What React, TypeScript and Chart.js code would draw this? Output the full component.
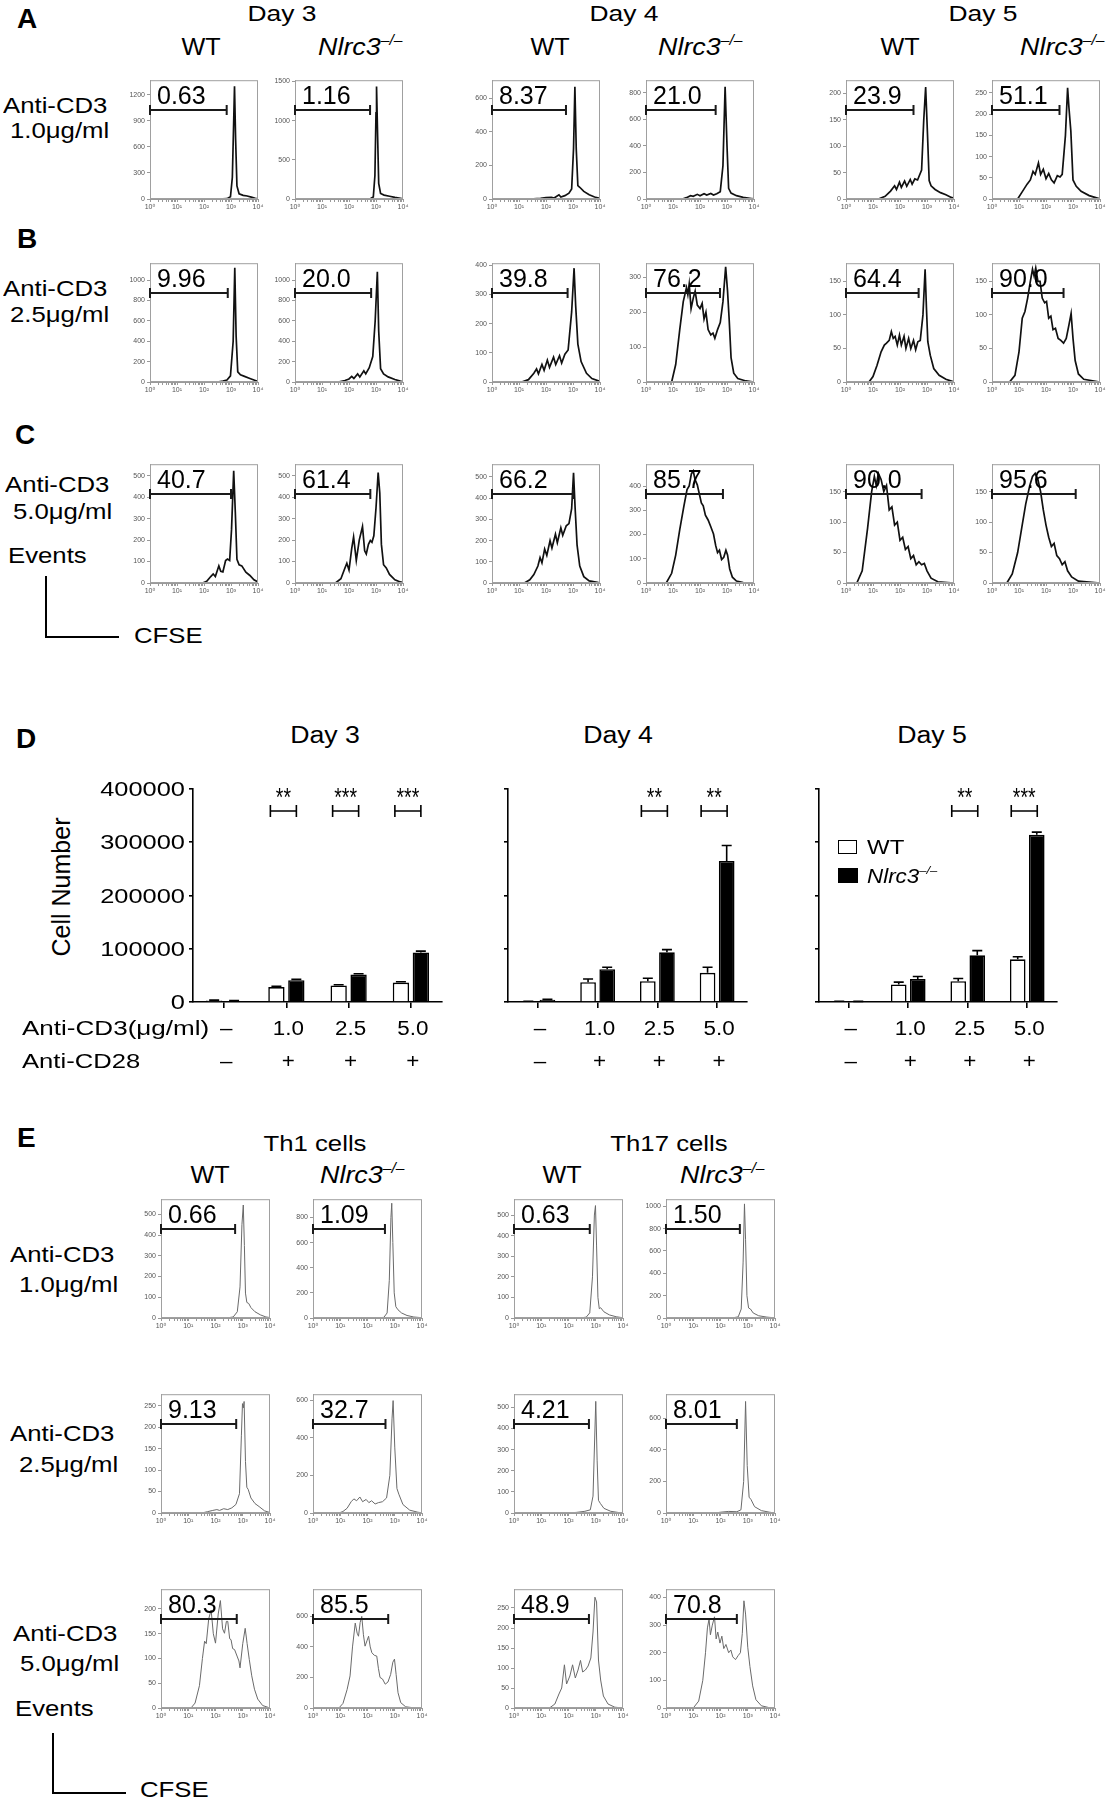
import React, { useEffect, useRef } from 'react';
import { Chart, registerables } from 'chart.js';

Chart.register(...registerables);
const FONT = '"Liberation Sans", Arial, "DejaVu Sans", sans-serif';
Chart.defaults.font.family = FONT;

type Pt = [number, number];

// ---------------- Histogram data: [log10(CFSE), events] ----------------
// Panel A (anti-CD3 1.0 ug/ml)
const A_D3_WT: Pt[] = [[0,0],[2.55,0],[2.85,4],[2.98,25],[3.05,250],[3.1,900],[3.13,1300],[3.17,700],[3.22,150],[3.3,60],[3.45,42],[3.6,35],[3.75,22],[3.9,8],[4,2]];
const A_D3_KO: Pt[] = [[0,0],[2.5,0],[2.8,5],[2.9,25],[2.96,300],[3.0,1100],[3.02,1435],[3.06,800],[3.1,200],[3.17,70],[3.3,50],[3.5,35],[3.7,20],[3.9,8],[4,2]];
const A_D4_WT: Pt[] = [[0,0],[1.4,0],[1.8,4],[2.0,8],[2.2,10],[2.3,6],[2.48,25],[2.55,12],[2.7,20],[2.85,35],[2.95,60],[3.02,300],[3.07,669],[3.12,300],[3.18,80],[3.25,70],[3.4,45],[3.6,25],[3.8,12],[4,4]];
const A_D4_KO: Pt[] = [[0,0],[1.35,0],[1.5,10],[1.65,25],[1.75,20],[1.9,35],[2.0,25],[2.15,40],[2.25,30],[2.4,42],[2.5,30],[2.62,40],[2.75,55],[2.85,250],[2.93,845],[3.0,400],[3.06,80],[3.15,45],[3.35,25],[3.6,12],[3.9,4],[4,1]];
const A_D5_WT: Pt[] = [[0,0],[1.2,0],[1.45,5],[1.65,15],[1.8,25],[1.87,18],[1.98,32],[2.05,22],[2.17,34],[2.25,24],[2.38,37],[2.45,28],[2.55,38],[2.65,36],[2.8,55],[2.88,150],[2.95,212],[3.02,120],[3.08,35],[3.15,25],[3.3,18],[3.5,12],[3.7,8],[3.9,3],[4,1]];
const A_D5_KO: Pt[] = [[0,0],[0.95,0],[1.1,15],[1.3,35],[1.42,45],[1.52,65],[1.6,58],[1.72,85],[1.8,58],[1.9,70],[2.0,48],[2.1,60],[2.2,45],[2.3,38],[2.42,55],[2.52,52],[2.6,58],[2.72,150],[2.8,262],[2.85,215],[2.92,160],[3.0,45],[3.12,30],[3.3,18],[3.6,8],[3.9,2],[4,0]];
// Panel B (anti-CD3 2.5 ug/ml)
const B_D3_WT: Pt[] = [[0,0],[2.5,0],[2.7,10],[2.85,20],[2.98,60],[3.08,400],[3.14,1120],[3.19,450],[3.25,100],[3.35,70],[3.5,55],[3.7,35],[3.9,15],[4,5]];
const B_D3_KO: Pt[] = [[0,0],[1.6,0],[1.85,15],[2.0,30],[2.1,55],[2.18,35],[2.32,80],[2.4,50],[2.55,110],[2.62,80],[2.75,140],[2.88,250],[2.97,600],[3.05,1080],[3.1,500],[3.17,130],[3.28,80],[3.45,50],[3.7,25],[3.9,8],[4,2]];
const B_D4_WT: Pt[] = [[0,0],[1.1,0],[1.35,8],[1.55,30],[1.65,45],[1.72,28],[1.85,60],[1.93,40],[2.05,75],[2.13,50],[2.28,85],[2.36,60],[2.5,90],[2.58,65],[2.7,95],[2.82,110],[2.95,240],[3.04,390],[3.1,260],[3.18,130],[3.3,70],[3.5,30],[3.7,12],[4,2]];
const B_D4_KO: Pt[] = [[0,0],[0.95,0],[1.1,50],[1.25,150],[1.38,230],[1.5,270],[1.55,250],[1.6,280],[1.67,210],[1.75,240],[1.82,260],[1.9,220],[2.0,210],[2.08,225],[2.15,180],[2.22,200],[2.3,150],[2.4,135],[2.48,140],[2.55,125],[2.65,150],[2.75,170],[2.85,230],[2.95,330],[3.02,260],[3.08,180],[3.15,70],[3.25,25],[3.4,10],[3.7,3],[4,0]];
const B_D5_WT: Pt[] = [[0,0],[0.85,0],[1.0,8],[1.15,25],[1.3,45],[1.42,55],[1.5,58],[1.6,62],[1.68,75],[1.75,65],[1.82,68],[1.9,55],[1.98,70],[2.05,55],[2.15,68],[2.22,50],[2.32,65],[2.4,50],[2.5,62],[2.58,48],[2.66,60],[2.75,62],[2.85,100],[2.93,168],[2.98,110],[3.03,60],[3.12,40],[3.25,20],[3.45,10],[3.7,4],[4,0]];
const B_D5_KO: Pt[] = [[0,0],[0.65,0],[0.85,10],[1.0,45],[1.12,95],[1.22,105],[1.32,125],[1.42,150],[1.5,168],[1.56,158],[1.62,170],[1.7,150],[1.78,150],[1.86,125],[1.95,118],[2.02,120],[2.1,95],[2.18,98],[2.26,78],[2.35,80],[2.45,65],[2.55,62],[2.65,58],[2.75,65],[2.85,85],[2.93,102],[3.0,65],[3.08,32],[3.2,12],[3.4,4],[4,0]];
// Panel C (anti-CD3 5.0 ug/ml)
const C_D3_WT: Pt[] = [[0,0],[1.95,0],[2.1,8],[2.25,30],[2.34,42],[2.42,30],[2.55,80],[2.62,55],[2.7,52],[2.8,105],[2.87,112],[2.95,105],[3.02,250],[3.1,523],[3.16,330],[3.22,110],[3.3,85],[3.4,80],[3.55,50],[3.7,35],[3.85,15],[4,5]];
const C_D3_KO: Pt[] = [[0,0],[1.5,0],[1.7,20],[1.85,70],[1.92,92],[2.0,60],[2.1,160],[2.17,215],[2.27,105],[2.38,200],[2.5,263],[2.58,150],[2.64,135],[2.72,180],[2.79,198],[2.85,190],[2.92,220],[3.0,350],[3.08,515],[3.14,420],[3.2,180],[3.28,85],[3.38,70],[3.5,40],[3.7,15],[3.9,5],[4,2]];
const C_D4_WT: Pt[] = [[0,0],[1.2,0],[1.4,15],[1.55,40],[1.7,80],[1.78,120],[1.85,95],[1.95,160],[2.03,130],[2.15,200],[2.22,165],[2.35,230],[2.42,190],[2.55,260],[2.62,225],[2.75,270],[2.85,280],[2.95,350],[3.02,520],[3.08,350],[3.15,180],[3.25,80],[3.4,30],[3.6,10],[3.9,3],[4,0]];
const C_D4_KO: Pt[] = [[0,0],[0.75,0],[0.95,40],[1.1,115],[1.25,220],[1.4,315],[1.52,385],[1.6,400],[1.68,450],[1.75,462],[1.82,425],[1.9,405],[1.98,365],[2.05,330],[2.12,318],[2.2,280],[2.3,260],[2.4,232],[2.5,202],[2.58,155],[2.65,125],[2.72,135],[2.8,97],[2.88,106],[2.96,135],[3.02,116],[3.1,58],[3.2,24],[3.35,8],[3.6,2],[4,0]];
const C_D5_WT: Pt[] = [[0,0],[0.4,0],[0.6,20],[0.8,90],[0.95,150],[1.05,175],[1.12,160],[1.2,180],[1.3,170],[1.4,150],[1.5,160],[1.6,120],[1.7,125],[1.8,95],[1.9,100],[2.0,70],[2.1,75],[2.2,55],[2.3,60],[2.4,40],[2.5,45],[2.6,30],[2.7,35],[2.8,30],[2.9,32],[3.0,20],[3.15,8],[3.4,2],[4,0]];
const C_D5_KO: Pt[] = [[0,0],[0.55,0],[0.75,15],[0.95,50],[1.1,90],[1.25,130],[1.4,160],[1.5,175],[1.6,180],[1.7,170],[1.8,150],[1.9,120],[2.0,95],[2.1,75],[2.2,60],[2.3,65],[2.4,45],[2.5,40],[2.6,30],[2.7,35],[2.8,20],[2.95,10],[3.2,3],[4,0]];
// Panel E row 1 (1.0 ug/ml): Th1 WT, Th1 KO, Th17 WT, Th17 KO
const E1_TH1_WT: Pt[] = [[0,0],[2.4,0],[2.65,5],[2.8,30],[2.9,150],[2.97,450],[3.02,545],[3.06,350],[3.1,120],[3.15,75],[3.22,70],[3.3,50],[3.45,30],[3.65,15],[3.85,5],[4,2]];
const E1_TH1_KO: Pt[] = [[0,0],[2.3,0],[2.6,5],[2.72,40],[2.8,300],[2.86,800],[2.89,913],[2.93,600],[2.98,200],[3.04,90],[3.12,65],[3.25,40],[3.45,20],[3.7,8],[4,2]];
const E1_TH17_WT: Pt[] = [[0,0],[2.4,0],[2.65,4],[2.78,25],[2.88,200],[2.95,500],[2.99,546],[3.03,350],[3.08,100],[3.13,45],[3.18,50],[3.3,30],[3.5,15],[3.75,6],[4,1]];
const E1_TH17_KO: Pt[] = [[0,0],[2.4,0],[2.65,10],[2.76,80],[2.83,500],[2.88,1021],[2.92,700],[2.97,200],[3.03,90],[3.1,80],[3.2,45],[3.4,20],[3.7,8],[4,1]];
// Panel E row 2 (2.5 ug/ml)
const E2_TH1_WT: Pt[] = [[0,0],[1.5,0],[1.7,3],[1.9,6],[2.05,8],[2.15,6],[2.3,10],[2.45,8],[2.6,12],[2.75,20],[2.88,45],[2.95,180],[2.99,255],[3.02,245],[3.05,260],[3.1,120],[3.15,60],[3.2,55],[3.3,35],[3.45,22],[3.6,15],[3.8,5],[4,1]];
const E2_TH1_KO: Pt[] = [[0,0],[0.95,0],[1.1,8],[1.25,25],[1.4,60],[1.5,75],[1.6,65],[1.72,85],[1.82,60],[1.95,72],[2.05,55],[2.15,65],[2.28,48],[2.4,55],[2.55,60],[2.7,80],[2.82,200],[2.9,500],[2.94,597],[3.0,350],[3.08,130],[3.15,100],[3.3,45],[3.55,15],[3.85,4],[4,1]];
const E2_TH17_WT: Pt[] = [[0,0],[2.0,0],[2.3,3],[2.6,8],[2.8,15],[2.9,80],[2.96,350],[3.0,528],[3.05,250],[3.1,60],[3.17,45],[3.3,22],[3.55,8],[3.85,2],[4,0]];
const E2_TH17_KO: Pt[] = [[0,0],[1.8,0],[2.0,5],[2.3,10],[2.6,8],[2.75,20],[2.85,200],[2.92,706],[2.98,300],[3.05,100],[3.12,85],[3.25,40],[3.5,15],[3.8,5],[4,0]];
// Panel E row 3 (5.0 ug/ml)
const E3_TH1_WT: Pt[] = [[0,0],[1.1,0],[1.25,10],[1.41,45],[1.52,100],[1.6,135],[1.66,130],[1.75,180],[1.84,198],[1.92,150],[2.0,131],[2.1,190],[2.18,217],[2.26,160],[2.33,151],[2.4,175],[2.45,175],[2.52,140],[2.57,138],[2.63,120],[2.7,118],[2.79,105],[2.86,95],[2.9,81],[3.0,130],[3.09,161],[3.16,130],[3.24,98],[3.33,65],[3.43,38],[3.55,18],[3.73,5],[4,0]];
const E3_TH1_KO: Pt[] = [[0,0],[0.95,0],[1.1,30],[1.25,120],[1.36,210],[1.45,400],[1.55,556],[1.62,490],[1.67,470],[1.73,560],[1.79,600],[1.85,480],[1.91,405],[1.98,440],[2.04,470],[2.1,400],[2.16,362],[2.25,345],[2.34,340],[2.4,260],[2.46,200],[2.55,190],[2.65,156],[2.75,170],[2.85,220],[2.93,300],[2.99,320],[3.05,220],[3.12,100],[3.22,35],[3.4,8],[3.7,1],[4,0]];
const E3_TH17_WT: Pt[] = [[0,0],[1.3,0],[1.5,10],[1.65,35],[1.75,50],[1.85,108],[1.93,60],[2.05,80],[2.15,108],[2.25,75],[2.35,95],[2.44,119],[2.52,90],[2.62,95],[2.72,105],[2.82,125],[2.9,190],[2.97,277],[3.03,265],[3.1,120],[3.18,70],[3.28,30],[3.45,10],[3.7,2],[4,0]];
const E3_TH17_KO: Pt[] = [[0,0],[1.0,0],[1.2,25],[1.35,100],[1.45,200],[1.52,290],[1.58,322],[1.63,265],[1.7,300],[1.78,330],[1.84,250],[1.9,275],[1.98,235],[2.05,260],[2.12,215],[2.2,230],[2.3,200],[2.38,210],[2.45,185],[2.55,175],[2.65,190],[2.73,200],[2.8,270],[2.86,388],[2.92,340],[3.0,220],[3.08,150],[3.18,80],[3.3,30],[3.5,8],[3.8,1],[4,0]];

// gate percentages, gate upper limits (log10 CFSE), y-axis maxima and tick steps
const A_LABELS = ['0.63', '1.16', '8.37', '21.0', '23.9', '51.1'];
const A_GATES = [2.84, 2.78, 2.74, 2.58, 2.5, 2.5];
const A_YMAX = [1370, 1515, 708, 894, 225, 280];
const A_STEP = [300, 500, 200, 200, 50, 50];
const B_LABELS = ['9.96', '20.0', '39.8', '76.2', '64.4', '90.0'];
const B_GATES = [2.88, 2.82, 2.8, 2.74, 2.69, 2.65];
const B_YMAX = [1165, 1165, 407, 340, 177, 177];
const B_STEP = [200, 200, 100, 100, 50, 50];
const C_LABELS = ['40.7', '61.4', '66.2', '85.7', '90.0', '95.6'];
const C_GATES = [3.0, 2.79, 3.0, 2.85, 2.8, 3.1];
const C_YMAX = [554, 554, 560, 490, 195, 195];
const C_STEP = [100, 100, 100, 100, 50, 50];
const E1_LABELS = ['0.66', '1.09', '0.63', '1.50'];
const E1_GATES = [2.72, 2.64, 2.78, 2.71];
const E1_YMAX = [573, 945, 577, 1063];
const E1_STEP = [100, 200, 100, 200];
const E2_LABELS = ['9.13', '32.7', '4.21', '8.01'];
const E2_GATES = [2.76, 2.66, 2.75, 2.6];
const E2_YMAX = [277, 631, 562, 752];
const E2_STEP = [50, 200, 100, 200];
const E3_LABELS = ['80.3', '85.5', '48.9', '70.8'];
const E3_GATES = [2.78, 2.76, 2.75, 2.6];
const E3_YMAX = [240, 778, 297, 430];
const E3_STEP = [50, 200, 50, 100];

// ---------------- Panel D: cell numbers ----------------
const CD3_LABELS = ['–', '1.0', '2.5', '5.0'];
const CD28_LABELS = ['–', '+', '+', '+'];
const D3_WT = [3000, 28000, 31000, 36500];
const D3_WT_ERR = [500, 1500, 1500, 1500];
const D3_KO = [2000, 41000, 51500, 93000];
const D3_KO_ERR = [500, 1500, 1500, 2500];
const D4_WT = [1200, 37300, 39200, 54700];
const D4_WT_ERR = [300, 6000, 5500, 10500];
const D4_KO = [4400, 61600, 93300, 265000];
const D4_KO_ERR = [500, 3700, 5000, 29000];
const D5_WT = [1200, 33000, 39200, 80200];
const D5_WT_ERR = [200, 4300, 5000, 4800];
const D5_KO = [1000, 43000, 87700, 314000];
const D5_KO_ERR = [200, 5000, 8700, 5000];
const D3_SIG = [null, '**', '***', '***'];
const D4_SIG = [null, null, '**', '**'];
const D5_SIG = [null, null, '**', '***'];
const Y_MAX = 400000;
const Y_STEP = 100000;
const SIG_LEVEL = 358000;

// ---------------- layout ----------------
const GATE_FRAC = 0.75;
const SUPS = ['⁰', '¹', '²', '³', '⁴'];
const X_TICKS: number[] = [];
for (let n = 0; n < 4; n++) for (let k = 1; k < 10; k++) X_TICKS.push(n + Math.log10(k));
X_TICKS.push(4);

type HistSpec = { left: number; top: number; w: number; h: number; data: Pt[]; yMax: number; step: number; label: string; gate: number; gray: boolean };

const COLS_ABC = [150, 295, 492, 646, 846, 992];
const COLS_E = [161, 313, 514, 666];
const HH = 119;

const HISTS: HistSpec[] = [];
const addRow = (top: number, cols: number[], w: number, datas: Pt[][], labels: string[], gates: number[], ymax: number[], steps: number[], gray: boolean) => {
  datas.forEach((d, i) => HISTS.push({ left: cols[i], top, w, h: HH, data: d, yMax: ymax[i], step: steps[i], label: labels[i], gate: gates[i], gray }));
};
addRow(80, COLS_ABC, 108, [A_D3_WT, A_D3_KO, A_D4_WT, A_D4_KO, A_D5_WT, A_D5_KO], A_LABELS, A_GATES, A_YMAX, A_STEP, false);
addRow(263, COLS_ABC, 108, [B_D3_WT, B_D3_KO, B_D4_WT, B_D4_KO, B_D5_WT, B_D5_KO], B_LABELS, B_GATES, B_YMAX, B_STEP, false);
addRow(464, COLS_ABC, 108, [C_D3_WT, C_D3_KO, C_D4_WT, C_D4_KO, C_D5_WT, C_D5_KO], C_LABELS, C_GATES, C_YMAX, C_STEP, false);
addRow(1199, COLS_E, 109, [E1_TH1_WT, E1_TH1_KO, E1_TH17_WT, E1_TH17_KO], E1_LABELS, E1_GATES, E1_YMAX, E1_STEP, true);
addRow(1394, COLS_E, 109, [E2_TH1_WT, E2_TH1_KO, E2_TH17_WT, E2_TH17_KO], E2_LABELS, E2_GATES, E2_YMAX, E2_STEP, true);
addRow(1589, COLS_E, 109, [E3_TH1_WT, E3_TH1_KO, E3_TH17_WT, E3_TH17_KO], E3_LABELS, E3_GATES, E3_YMAX, E3_STEP, true);

function drawText(ctx: any, text: string, x: number, y: number, size: number, sx: number, align: string, style = '') {
  ctx.save();
  ctx.translate(x, y);
  ctx.scale(sx, 1);
  ctx.font = `${style}${size}px ${FONT}`;
  ctx.textAlign = align;
  ctx.textBaseline = 'alphabetic';
  ctx.fillStyle = '#000';
  ctx.fillText(text, 0, 0);
  ctx.restore();
}

const HYW = 28, HPT = 6, HPR = 10, HXH = 18;

function Histogram({ s }: { s: HistSpec }) {
  const ref = useRef<HTMLCanvasElement>(null);
  const cw = HYW + s.w + HPR, ch = HPT + s.h + HXH;
  useEffect(() => {
    const cv = ref.current;
    if (!cv) return;
    const gatePlugin = {
      id: 'gateBox',
      afterDraw(chart: any) {
        const { ctx, chartArea: ca } = chart;
        const xs = chart.scales.x, ys = chart.scales.y;
        ctx.save();
        ctx.strokeStyle = '#a0a0a0';
        ctx.lineWidth = 1;
        ctx.strokeRect(ca.left + 0.5, ca.top + 0.5, ca.right - ca.left - 1, ca.bottom - ca.top - 1);
        const gy = Math.round(ys.getPixelForValue(s.yMax * GATE_FRAC));
        const x1 = xs.getPixelForValue(0), x2 = xs.getPixelForValue(s.gate);
        ctx.strokeStyle = '#1a1a1a';
        ctx.lineWidth = 2;
        ctx.beginPath();
        ctx.moveTo(x1, gy); ctx.lineTo(x2, gy);
        ctx.moveTo(x1, gy - 5); ctx.lineTo(x1, gy + 5);
        ctx.moveTo(x2, gy - 5); ctx.lineTo(x2, gy + 5);
        ctx.stroke();
        ctx.restore();
        drawText(ctx, s.label, x1 + 7, gy - 6, 25, 1, 'left');
      },
    };
    const chart = new Chart(cv, {
      type: 'line',
      data: {
        datasets: [{
          data: s.data.map(([x, y]) => ({ x, y })),
          borderColor: s.gray ? '#6a6a6a' : '#111',
          borderWidth: s.gray ? 1 : 1.7,
          pointRadius: 0,
          tension: 0,
          fill: false,
        }],
      },
      options: {
        animation: false,
        responsive: false,
        devicePixelRatio: 1,
        events: [],
        layout: { padding: { top: HPT, right: HPR, left: 0, bottom: 0 } },
        plugins: { legend: { display: false }, tooltip: { enabled: false } },
        scales: {
          x: {
            type: 'linear', min: 0, max: 4,
            afterBuildTicks: (sc: any) => { sc.ticks = X_TICKS.map((v) => ({ value: v })); },
            afterFit: (sc: any) => { sc.height = HXH; },
            ticks: {
              autoSkip: false, maxRotation: 0, minRotation: 0, padding: 1,
              font: { size: 7 }, color: '#555',
              callback: (v: any) => {
                const r = Math.round(Number(v));
                return Math.abs(Number(v) - r) < 1e-6 ? '10' + SUPS[r] : '';
              },
            },
            grid: { drawOnChartArea: false, drawTicks: true, tickLength: 3, color: '#999' },
            border: { color: '#999' },
          },
          y: {
            min: 0, max: s.yMax,
            afterBuildTicks: (sc: any) => {
              const t: { value: number }[] = [];
              for (let v = 0; v <= s.yMax + 1e-9; v += s.step) t.push({ value: v });
              sc.ticks = t;
            },
            afterFit: (sc: any) => { sc.width = HYW; },
            ticks: { autoSkip: false, font: { size: 7 }, color: '#555', padding: 2, callback: (v: any) => String(v) },
            grid: { drawOnChartArea: false, drawTicks: true, tickLength: 3, color: '#999' },
            border: { color: '#999' },
          },
        },
      } as any,
      plugins: [gatePlugin],
    });
    return () => chart.destroy();
  }, []);
  return (
    <canvas ref={ref} width={cw} height={ch}
      style={{ position: 'absolute', left: s.left - HYW, top: s.top - HPT, width: cw, height: ch }} />
  );
}

type BarSpec = { left: number; right: number; wt: number[]; wtErr: number[]; ko: number[]; koErr: number[]; sig: (string | null)[]; yLabels: boolean };
const AXIS_TOP = 789, AXIS_BOTTOM = 1002, BPT = 15, BXH = 80, BPR = 10;

const BARS: BarSpec[] = [
  { left: 193, right: 442, wt: D3_WT, wtErr: D3_WT_ERR, ko: D3_KO, koErr: D3_KO_ERR, sig: D3_SIG, yLabels: true },
  { left: 508, right: 747, wt: D4_WT, wtErr: D4_WT_ERR, ko: D4_KO, koErr: D4_KO_ERR, sig: D4_SIG, yLabels: false },
  { left: 819, right: 1057, wt: D5_WT, wtErr: D5_WT_ERR, ko: D5_KO, koErr: D5_KO_ERR, sig: D5_SIG, yLabels: false },
];

function BarPanel({ s }: { s: BarSpec }) {
  const ref = useRef<HTMLCanvasElement>(null);
  const yw = s.yLabels ? 100 : 20;
  const cw = yw + (s.right - s.left) + BPR;
  const ch = BPT + (AXIS_BOTTOM - AXIS_TOP) + BXH;
  useEffect(() => {
    const cv = ref.current;
    if (!cv) return;
    const extras = {
      id: 'extras',
      afterDatasetsDraw(chart: any) {
        const { ctx } = chart;
        const ys = chart.scales.y;
        ctx.save();
        ctx.strokeStyle = '#000';
        ctx.lineWidth = 1.6;
        const sets: [number[], number[]][] = [[s.wt, s.wtErr], [s.ko, s.koErr]];
        sets.forEach(([vals, errs], di) => {
          const meta = chart.getDatasetMeta(di);
          meta.data.forEach((el: any, i: number) => {
            const e = errs[i];
            if (!e) return;
            const yv = ys.getPixelForValue(vals[i]);
            const ye = ys.getPixelForValue(vals[i] + e);
            ctx.beginPath();
            ctx.moveTo(el.x, yv); ctx.lineTo(el.x, ye);
            ctx.moveTo(el.x - 5, ye); ctx.lineTo(el.x + 5, ye);
            ctx.stroke();
          });
        });
        ctx.restore();
      },
      afterDraw(chart: any) {
        const { ctx, chartArea: ca } = chart;
        const xs = chart.scales.x, ys = chart.scales.y;
        CD3_LABELS.forEach((t, i) => {
          const cx = xs.getPixelForValue(i) + 2;
          drawText(ctx, t, cx, ca.bottom + 33, 20, 1.12, 'center');
          drawText(ctx, CD28_LABELS[i], cx, ca.bottom + 66, 20, 1.12, 'center');
        });
        ctx.save();
        ctx.strokeStyle = '#000';
        ctx.lineWidth = 1.6;
        s.sig.forEach((t, i) => {
          if (!t) return;
          const cx = xs.getPixelForValue(i) - 3;
          const by = Math.round(ys.getPixelForValue(SIG_LEVEL));
          ctx.beginPath();
          ctx.moveTo(cx - 13, by); ctx.lineTo(cx + 13, by);
          ctx.moveTo(cx - 13, by - 6); ctx.lineTo(cx - 13, by + 6);
          ctx.moveTo(cx + 13, by - 6); ctx.lineTo(cx + 13, by + 6);
          ctx.stroke();
          drawText(ctx, t, cx, by - 5, 26, 0.75, 'center');
        });
        ctx.restore();
        if (s.yLabels) {
          ys.ticks.forEach((tk: any) => {
            drawText(ctx, String(tk.value), ca.left - 8, ys.getPixelForValue(tk.value) + 7, 20, 1.27, 'right');
          });
        }
      },
    };
    const chart = new Chart(cv, {
      type: 'bar',
      data: {
        labels: CD3_LABELS,
        datasets: [
          { label: 'WT', data: s.wt, backgroundColor: '#fff', borderColor: '#000', borderWidth: 1.6, barPercentage: 0.82, categoryPercentage: 0.64 },
          { label: 'Nlrc3-/-', data: s.ko, backgroundColor: '#000', borderColor: '#000', borderWidth: 1.6, barPercentage: 0.82, categoryPercentage: 0.64 },
        ],
      },
      options: {
        animation: false,
        responsive: false,
        devicePixelRatio: 1,
        events: [],
        layout: { padding: { top: BPT, right: BPR, left: 0, bottom: 0 } },
        plugins: { legend: { display: false }, tooltip: { enabled: false } },
        scales: {
          x: {
            afterFit: (sc: any) => { sc.height = BXH; },
            ticks: { display: false },
            grid: { offset: false, drawOnChartArea: false, drawTicks: true, tickLength: 6, color: '#000', lineWidth: 1.6 },
            border: { color: '#000', width: 1.6 },
          },
          y: {
            min: 0, max: Y_MAX,
            afterFit: (sc: any) => { sc.width = yw; },
            ticks: { stepSize: Y_STEP, display: false },
            grid: { drawOnChartArea: false, drawTicks: true, tickLength: 4, color: '#000', lineWidth: 1.6 },
            border: { color: '#000', width: 1.6 },
          },
        },
      } as any,
      plugins: [extras],
    });
    return () => chart.destroy();
  }, []);
  return (
    <canvas ref={ref} width={cw} height={ch}
      style={{ position: 'absolute', left: s.left - yw, top: AXIS_TOP - BPT, width: cw, height: ch }} />
  );
}

type TP = { x: number; y: number; size: number; bold?: boolean; italic?: boolean; center?: boolean; sx?: number; children: any };
function Txt({ x, y, size, bold, italic, center, sx = 1.17, children }: TP) {
  return (
    <div style={{
      position: 'absolute', left: x, top: y - 0.8465 * size, fontFamily: FONT, fontSize: size, lineHeight: 1,
      fontWeight: bold ? 700 : 400, fontStyle: italic ? 'italic' : 'normal', whiteSpace: 'nowrap', color: '#000',
      transform: center ? `translateX(-50%) scaleX(${sx})` : `scaleX(${sx})`,
      transformOrigin: center ? 'center center' : 'left center',
    }}>{children}</div>
  );
}

const KO = () => (
  <i>Nlrc3<sup style={{ fontSize: '0.58em', verticalAlign: '0.75em', lineHeight: 0 }}>–/–</sup></i>
);

function Line({ x, y, w, h }: { x: number; y: number; w: number; h: number }) {
  return <div style={{ position: 'absolute', left: x, top: y, width: w, height: h, background: '#000' }} />;
}

export default function App() {
  return (
    <div style={{ position: 'absolute', left: 0, top: 0, width: 1108, height: 1800, background: '#fff', overflow: 'hidden' }}>
      {HISTS.map((s, i) => <Histogram key={'h' + i} s={s} />)}
      {BARS.map((b, i) => <BarPanel key={'b' + i} s={b} />)}

      {/* Panels A-C headings */}
      <Txt x={17} y={29} size={28} bold sx={1}>A</Txt>
      <Txt x={282} y={22} size={22} center sx={1.2}>Day 3</Txt>
      <Txt x={624} y={22} size={22} center sx={1.2}>Day 4</Txt>
      <Txt x={983} y={22} size={22} center sx={1.2}>Day 5</Txt>
      <Txt x={201} y={55} size={24} center sx={1.05}>WT</Txt>
      <Txt x={550} y={55} size={24} center sx={1.05}>WT</Txt>
      <Txt x={900} y={55} size={24} center sx={1.05}>WT</Txt>
      <Txt x={318} y={55} size={24} sx={1.12}><KO /></Txt>
      <Txt x={658} y={55} size={24} sx={1.12}><KO /></Txt>
      <Txt x={1020} y={55} size={24} sx={1.12}><KO /></Txt>

      <Txt x={3} y={114} size={22}>Anti-CD3</Txt>
      <Txt x={10} y={139} size={22}>1.0μg/ml</Txt>
      <Txt x={17} y={249} size={28} bold sx={1}>B</Txt>
      <Txt x={3} y={297} size={22}>Anti-CD3</Txt>
      <Txt x={10} y={323} size={22}>2.5μg/ml</Txt>
      <Txt x={15} y={445} size={28} bold sx={1}>C</Txt>
      <Txt x={5} y={493} size={22}>Anti-CD3</Txt>
      <Txt x={13} y={520} size={22}>5.0μg/ml</Txt>
      <Txt x={8} y={564} size={22}>Events</Txt>
      <Line x={45} y={576} w={2} h={62} />
      <Line x={45} y={636} w={74} h={2} />
      <Txt x={134} y={644} size={22}>CFSE</Txt>

      {/* Panel D */}
      <Txt x={16} y={749} size={28} bold sx={1}>D</Txt>
      <Txt x={325} y={743} size={23} center sx={1.16}>Day 3</Txt>
      <Txt x={618} y={743} size={23} center sx={1.16}>Day 4</Txt>
      <Txt x={932} y={743} size={23} center sx={1.16}>Day 5</Txt>
      <div style={{ position: 'absolute', left: 61, top: 887, fontFamily: FONT, fontSize: 25, lineHeight: 1, whiteSpace: 'nowrap', transform: 'translate(-50%, -50%) rotate(-90deg)' }}>Cell Number</div>
      <Txt x={22} y={1035} size={21} sx={1.24}>Anti-CD3(μg/ml)</Txt>
      <Txt x={22} y={1068} size={21} sx={1.22}>Anti-CD28</Txt>
      <div style={{ position: 'absolute', left: 838, top: 840, width: 17, height: 12, border: '1.6px solid #000', background: '#fff' }} />
      <div style={{ position: 'absolute', left: 838, top: 868, width: 20, height: 15, background: '#000' }} />
      <Txt x={867} y={854} size={20} sx={1.2}>WT</Txt>
      <Txt x={867} y={883} size={20} sx={1.12}><KO /></Txt>

      {/* Panel E */}
      <Txt x={17} y={1148} size={28} bold sx={1}>E</Txt>
      <Txt x={315} y={1152} size={22} center>Th1 cells</Txt>
      <Txt x={669} y={1152} size={22} center>Th17 cells</Txt>
      <Txt x={210} y={1183} size={24} center sx={1.05}>WT</Txt>
      <Txt x={562} y={1183} size={24} center sx={1.05}>WT</Txt>
      <Txt x={320} y={1183} size={24} sx={1.12}><KO /></Txt>
      <Txt x={680} y={1183} size={24} sx={1.12}><KO /></Txt>
      <Txt x={10} y={1263} size={22}>Anti-CD3</Txt>
      <Txt x={19} y={1293} size={22}>1.0μg/ml</Txt>
      <Txt x={10} y={1442} size={22}>Anti-CD3</Txt>
      <Txt x={19} y={1473} size={22}>2.5μg/ml</Txt>
      <Txt x={13} y={1642} size={22}>Anti-CD3</Txt>
      <Txt x={20} y={1672} size={22}>5.0μg/ml</Txt>
      <Txt x={15} y={1717} size={22}>Events</Txt>
      <Line x={52} y={1733} w={2} h={61} />
      <Line x={52} y={1792} w={74} h={2} />
      <Txt x={140} y={1798} size={22}>CFSE</Txt>
    </div>
  );
}
